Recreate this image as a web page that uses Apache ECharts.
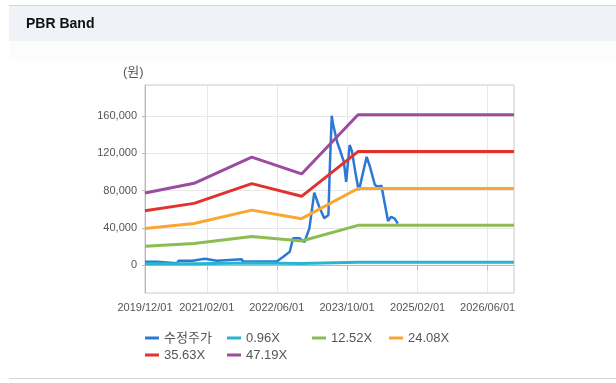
<!DOCTYPE html>
<html>
<head>
<meta charset="utf-8">
<script src="https://cdn.jsdelivr.net/npm/echarts@6/dist/echarts.min.js"></script>
<style>
html,body{margin:0;padding:0;background:#fff;}
#chart{width:616px;height:383px;}
</style>
</head>
<body>
<div id="chart"></div>
<script>
// ---- data ----
var title = 'PBR Band';
var yUnit = '(원)';
var seriesNames = ['수정주가', '0.96X', '12.52X', '24.08X', '35.63X', '47.19X'];
var xTickDates = ['2019-12-01', '2021-02-01', '2022-06-01', '2023-10-01', '2025-02-01', '2026-06-01'];
var yTickValues = [0, 40000, 80000, 120000, 160000];

var priceDates = ['2019-12-01','2020-02-20','2020-03-01','2020-07-10','2020-07-20','2020-10-25','2020-11-01',
  '2021-01-20','2021-01-30','2021-04-10','2021-04-20','2021-10-01','2021-10-10','2022-06-01','2022-07-16',
  '2022-08-30','2022-09-22','2022-11-06','2022-12-10','2023-01-13','2023-02-16','2023-03-22','2023-04-26',
  '2023-05-25','2023-06-04','2023-06-17','2023-06-25','2023-07-25','2023-08-17','2023-09-09','2023-09-25',
  '2023-10-03','2023-10-19','2023-11-04','2023-11-27','2023-12-20','2023-12-31','2024-02-14','2024-03-08',
  '2024-04-11','2024-05-04','2024-05-26','2024-06-18','2024-07-11','2024-08-02','2024-08-26','2024-09-17'];
var priceValues = [3800,3800,2300,2300,4800,5000,7000,
  7000,5000,5000,6500,6500,4200,4200,9200,
  14600,29000,29000,25000,39700,78000,62800,50400,
  53900,105700,160500,152000,132000,121800,111000,89600,
  89600,129000,122500,100400,80700,86000,116400,105700,
  86100,84300,85500,66500,47500,52100,50000,44700];

var bandDates = ['2019-12-01','2020-11-05','2021-12-10','2022-11-20','2023-12-16','2026-12-01'];
var band096 = [1580, 1790, 2360, 1990, 3290, 3290];
var band1252 = [20560, 23350, 30780, 26000, 42850, 42850];
var band2408 = [39550, 44900, 59190, 50010, 82410, 82410];
var band3563 = [58520, 66440, 87580, 73990, 121940, 121940];
var band4719 = [77500, 88000, 116000, 98000, 161500, 161500];

var colors = ['#2b78d6', '#27b6cf', '#8cbc52', '#fba62f', '#e2322f', '#9a4c9f'];

// ---- build ----
function ts(s) { var p = s.split('-'); return Date.UTC(+p[0], +p[1] - 1, +p[2]); }
function fmtDate(v) {
  var d = new Date(v);
  function p2(n) { return (n < 10 ? '0' : '') + n; }
  return d.getUTCFullYear() + '/' + p2(d.getUTCMonth() + 1) + '/' + p2(d.getUTCDate());
}
function pairs(dates, vals) { return dates.map(function (d, i) { return [ts(d), vals[i]]; }); }
var FONT = "'Liberation Sans', 'Noto Sans CJK KR', sans-serif";

var bandVals = [band096, band1252, band2408, band3563, band4719];
var series = [{
  name: seriesNames[0], type: 'line', data: pairs(priceDates, priceValues),
  showSymbol: false, lineStyle: { width: 2.5, color: colors[0] }, itemStyle: { color: colors[0] }
}];
bandVals.forEach(function (v, i) {
  series.push({
    name: seriesNames[i + 1], type: 'line', data: pairs(bandDates, v),
    showSymbol: false, lineStyle: { width: 3, color: colors[i + 1] }, itemStyle: { color: colors[i + 1] }
  });
});

var legendPos = [[145, 330], [227, 330], [312, 330], [389, 330], [145, 347], [227, 347]];
var legends = seriesNames.map(function (n, i) {
  return {
    data: [n], left: legendPos[i][0], top: legendPos[i][1], padding: 0,
    icon: 'rect', itemWidth: 14, itemHeight: 3, selectedMode: false,
    textStyle: { fontSize: 13, color: '#555', fontFamily: FONT, lineHeight: 16 }
  };
});

var xTicks = xTickDates.map(ts);
var chart = echarts.init(document.getElementById('chart'), null, { renderer: 'canvas' });
chart.setOption({
  animation: false,
  color: colors,
  title: {
    text: title, left: 26, top: 17, padding: 0,
    textStyle: { fontSize: 14, fontWeight: 'bold', color: '#111', fontFamily: FONT }
  },
  graphic: [
    { type: 'rect', z: -10, shape: { x: 9, y: 5, width: 607, height: 36 }, style: { fill: '#eff2f7' } },
    { type: 'line', z: -9, shape: { x1: 9, y1: 5.5, x2: 616, y2: 5.5 }, style: { stroke: '#d3d6db', lineWidth: 1 } },
    { type: 'rect', z: -10, shape: { x: 9, y: 41, width: 607, height: 20 }, style: { fill: '#fcfcfc' } },
    { type: 'line', z: -9, shape: { x1: 9, y1: 378.5, x2: 616, y2: 378.5 }, style: { stroke: '#d3d6db', lineWidth: 1 } },
    { type: 'text', left: 123, top: 66, style: { text: yUnit, fontSize: 13, fill: '#555', fontFamily: FONT } }
  ],
  legend: legends,
  grid: { left: 145, top: 85, width: 369, height: 208, show: true, borderColor: '#c8c8c8', borderWidth: 1, containLabel: false },
  xAxis: {
    type: 'value',
    min: ts('2019-12-01'), max: ts('2026-12-01'),
    axisLine: { lineStyle: { color: '#b8b8b8' } },
    axisTick: { show: true, length: 5, lineStyle: { color: '#b8b8b8' }, customValues: xTicks },
    axisLabel: {
      customValues: xTicks, margin: 9,
      fontSize: 11, color: '#555', fontFamily: FONT, hideOverlap: false,
      formatter: fmtDate
    },
    splitLine: { show: true, lineStyle: { color: '#e8e8e8' } }
  },
  yAxis: {
    type: 'value',
    min: -29700, max: 193400,
    axisLine: { show: true, lineStyle: { color: '#b8b8b8' } },
    axisTick: { show: true, length: 3, lineStyle: { color: '#b8b8b8' }, customValues: yTickValues },
    axisLabel: {
      customValues: yTickValues, margin: 8, fontSize: 11, color: '#555', fontFamily: FONT,
      formatter: function (v) { return echarts.format.addCommas(v); }
    },
    splitLine: { show: true, lineStyle: { color: '#e8e8e8' } }
  },
  series: series
});
</script>
</body>
</html>
